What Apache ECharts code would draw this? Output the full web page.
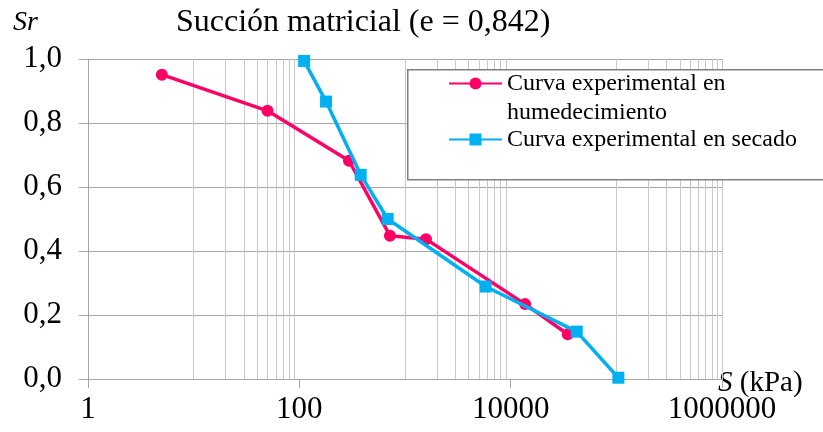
<!DOCTYPE html>
<html>
<head>
<meta charset="utf-8">
<script src="https://cdn.jsdelivr.net/npm/echarts@6/dist/echarts.min.js"></script>
<style>
  html, body { margin: 0; padding: 0; background: #fff; }
  #chart { width: 823px; height: 432px; }
</style>
</head>
<body>
<div id="chart"></div>
<script>
// Suction (kPa) and degree of saturation Sr for each test branch
const wettingName = 'Curva experimental en humedecimiento';
const wettingS = [5, 50, 295, 720, 1580, 13700, 34700];
const wettingSr = [0.951, 0.838, 0.682, 0.448, 0.437, 0.234, 0.140];

const dryingName = 'Curva experimental en secado';
const dryingS = [111, 179, 381, 686, 5800, 42200, 104500];
const dryingSr = [0.994, 0.867, 0.638, 0.500, 0.289, 0.148, 0.004];

// Axis ticks
const suctionTicks = [1, 100, 10000, 1000000];
const srTicks = [0, 0.2, 0.4, 0.6, 0.8, 1.0];
// Vertical minor grid lines of the log axis (base 100)
const suctionMinorGrid = [
  10, 20, 30, 40, 50, 60, 70, 80, 90,
  1000, 2000, 3000, 4000, 5000, 6000, 7000, 8000, 9000,
  100000, 200000, 300000, 400000, 500000, 600000, 700000, 800000, 900000, 1000000
];

const FONT = "'Liberation Serif', 'Times New Roman', serif";
const GRID_MINOR = '#c8c8c8';
const GRID_MAJOR = '#a6a6a6';

const toPairs = (xs, ys) => xs.map((x, i) => [x, ys[i]]);

const chart = echarts.init(document.getElementById('chart'), null, { renderer: 'canvas' });

chart.setOption({
  animation: false,
  backgroundColor: '#fff',
  textStyle: { fontFamily: FONT, color: '#000' },
  title: {
    text: 'Succión matricial (e = 0,842)',
    left: 176,
    top: 7,
    padding: 0,
    textStyle: { fontFamily: FONT, fontSize: 32, fontWeight: 'normal', color: '#000' }
  },
  grid: {
    left: 88, right: 101, top: 59, bottom: 53,
    containLabel: false,
    outerBoundsMode: 'none'
  },
  xAxis: {
    type: 'log',
    logBase: 100,
    min: suctionTicks[0],
    max: suctionTicks[suctionTicks.length - 1],
    name: '{i|S} (kPa)',
    nameLocation: 'end',
    nameGap: -6,
    nameMoveOverlap: false,
    nameTextStyle: {
      fontFamily: FONT,
      fontSize: 29,
      color: '#000',
      align: 'left',
      verticalAlign: 'middle',
      backgroundColor: '#fff',
      padding: [8, 4, 0, 2],
      rich: { i: { fontFamily: FONT, fontSize: 29, fontStyle: 'italic', color: '#000' } }
    },
    axisLine: { show: true, lineStyle: { color: GRID_MAJOR, width: 1 } },
    axisTick: { show: true, inside: false, length: 9, lineStyle: { color: GRID_MAJOR, width: 1 } },
    splitLine: { show: false },
    minorTick: { show: false },
    minorSplitLine: { show: false },
    axisLabel: {
      fontFamily: FONT,
      fontSize: 31,
      color: '#000',
      margin: 15,
      formatter: (v) => {
        const r = Math.round(v);
        return suctionTicks.includes(r) ? String(r) : '';
      }
    }
  },
  yAxis: {
    type: 'value',
    min: srTicks[0],
    max: srTicks[srTicks.length - 1],
    interval: 0.2,
    name: 'Sr',
    nameLocation: 'end',
    nameGap: 36,
    nameMoveOverlap: false,
    nameTextStyle: {
      fontFamily: FONT,
      fontSize: 28,
      fontStyle: 'italic',
      color: '#000',
      align: 'right',
      verticalAlign: 'middle',
      padding: [0, 50, 0, 0]
    },
    axisLine: { show: true, lineStyle: { color: GRID_MAJOR, width: 1 } },
    axisTick: { show: true, inside: false, length: 9, lineStyle: { color: GRID_MAJOR, width: 1 } },
    splitLine: { show: true, lineStyle: { color: GRID_MAJOR, width: 1 } },
    axisLabel: {
      fontFamily: FONT,
      fontSize: 31,
      color: '#000',
      margin: 26,
      formatter: (v) => v.toFixed(1).replace('.', ',')
    }
  },
  legend: [
    {
      data: [wettingName],
      orient: 'vertical',
      left: 448,
      top: 40,
      padding: 0,
      itemWidth: 53,
      itemHeight: 15,
      itemGap: 0,
      selectedMode: false,
      textStyle: { fontFamily: FONT, fontSize: 24, lineHeight: 29, color: '#000' },
      // leading blank line keeps the marker level with the first text line
      formatter: () => '\u00a0\nCurva experimental en\nhumedecimiento'
    },
    {
      data: [dryingName],
      orient: 'vertical',
      left: 448,
      top: 125,
      padding: 0,
      itemWidth: 53,
      itemHeight: 15,
      itemGap: 0,
      selectedMode: false,
      textStyle: { fontFamily: FONT, fontSize: 24, lineHeight: 29, color: '#000' }
    }
  ],
  graphic: [
    {
      type: 'rect',
      left: 407,
      top: 69,
      z: 3,
      silent: true,
      shape: { width: 430, height: 110 },
      style: { fill: '#fff', stroke: '#808080', lineWidth: 1.5 }
    }
  ],
  series: [
    {
      // minor vertical grid of the log axis
      name: 'grid',
      type: 'line',
      data: [],
      silent: true,
      markLine: {
        silent: true,
        z: 1,
        symbol: ['none', 'none'],
        label: { show: false },
        lineStyle: { color: GRID_MINOR, width: 1, type: 'solid' },
        emphasis: { disabled: true },
        data: suctionMinorGrid.map((v) => ({ xAxis: v }))
      }
    },
    {
      name: wettingName,
      type: 'line',
      data: toPairs(wettingS, wettingSr),
      symbol: 'circle',
      symbolSize: 12,
      z: 5,
      lineStyle: { color: '#FF0066', width: 3.5 },
      itemStyle: { color: '#FF0066' }
    },
    {
      name: dryingName,
      type: 'line',
      data: toPairs(dryingS, dryingSr),
      symbol: 'rect',
      symbolSize: 12,
      z: 6,
      lineStyle: { color: '#00B0F0', width: 3.5 },
      itemStyle: { color: '#00B0F0' }
    }
  ]
});
</script>
</body>
</html>
